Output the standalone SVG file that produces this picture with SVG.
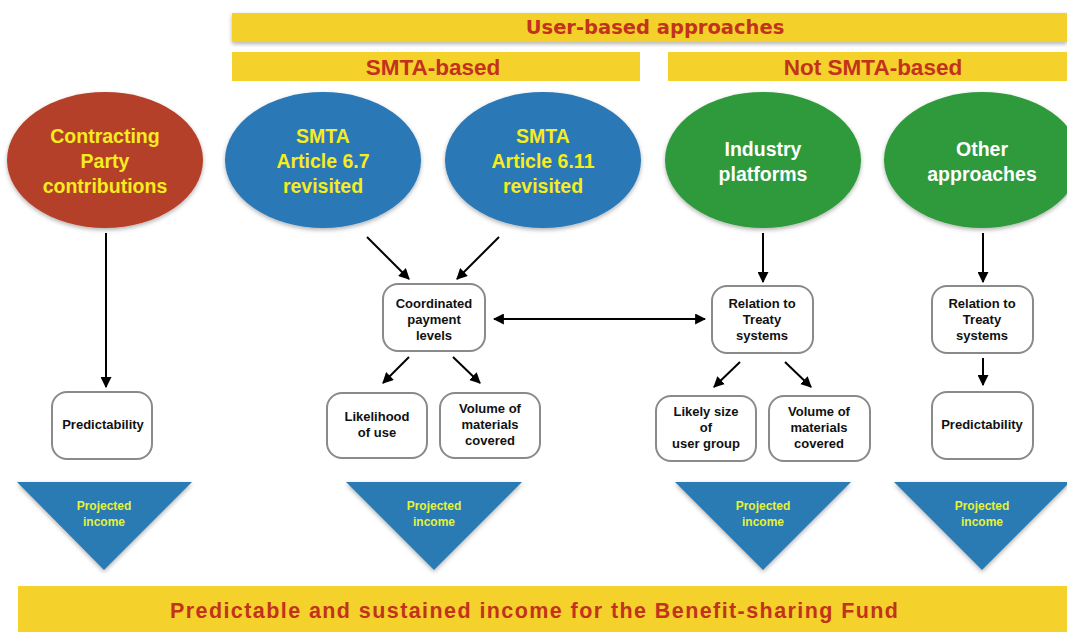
<svg xmlns="http://www.w3.org/2000/svg" width="1067" height="632" viewBox="0 0 1067 632">
<defs>
<style>
.bar{fill:#f4d12b}
.bartxt{font-family:"Liberation Sans",Arial,sans-serif;font-weight:bold;fill:#c2321d;text-anchor:middle}
.ell{font-family:"Liberation Sans",Arial,sans-serif;font-weight:bold;font-size:19.5px;text-anchor:middle}
.yl{fill:#f6ec1e}
.wt{fill:#ffffff}
.box{fill:#ffffff;stroke:#8a8a8a;stroke-width:2}
.bt{font-family:"Liberation Sans",Arial,sans-serif;font-weight:bold;font-size:13px;fill:#111;text-anchor:middle}
.tri{fill:#2b7ab4}
.tt{font-family:"Liberation Sans",Arial,sans-serif;font-weight:bold;font-size:12px;fill:#e4f23a;text-anchor:middle}
.ar{stroke:#000;stroke-width:2;fill:none}
</style>
<marker id="ah" viewBox="0 0 10 10" refX="9" refY="5" markerWidth="5.5" markerHeight="5.5" orient="auto-start-reverse" markerUnits="strokeWidth">
<path d="M0,0 L10,5 L0,10 z" fill="#000"/>
</marker>
<filter id="sh" x="-10%" y="-10%" width="120%" height="125%">
<feDropShadow dx="0" dy="2" stdDeviation="2" flood-color="#000" flood-opacity="0.3"/>
</filter>
</defs>
<rect width="1067" height="632" fill="#ffffff"/>

<g id="bar-user">
<rect class="bar" x="232" y="13" width="835" height="29" filter="url(#sh)"/>
<text class="bartxt" x="655" y="34" style="font-family:'DejaVu Sans',sans-serif;font-size:19.5px">User-based approaches</text>
</g>
<g id="bar-smta">
<rect class="bar" x="232" y="52" width="408" height="29"/>
<text class="bartxt" x="433" y="75" font-size="22.5">SMTA-based</text>
</g>
<g id="bar-notsmta">
<rect class="bar" x="668" y="52" width="399" height="29"/>
<text class="bartxt" x="873" y="75" font-size="22.5">Not SMTA-based</text>
</g>

<g id="n-contracting">
<ellipse cx="105" cy="160" rx="98" ry="68" fill="#b5402b" filter="url(#sh)"/>
<text class="ell yl" x="105" y="143">Contracting</text>
<text class="ell yl" x="105" y="168">Party</text>
<text class="ell yl" x="105" y="193">contributions</text>
</g>
<g id="n-smta67">
<ellipse cx="323" cy="160" rx="98" ry="68" fill="#2a78b5" filter="url(#sh)"/>
<text class="ell yl" x="323" y="143">SMTA</text>
<text class="ell yl" x="323" y="168">Article 6.7</text>
<text class="ell yl" x="323" y="193">revisited</text>
</g>
<g id="n-smta611">
<ellipse cx="543" cy="160" rx="98" ry="68" fill="#2a78b5" filter="url(#sh)"/>
<text class="ell yl" x="543" y="143">SMTA</text>
<text class="ell yl" x="543" y="168">Article 6.11</text>
<text class="ell yl" x="543" y="193">revisited</text>
</g>
<g id="n-industry">
<ellipse cx="763" cy="160" rx="98" ry="68" fill="#2f9a3b" filter="url(#sh)"/>
<text class="ell wt" x="763" y="156">Industry</text>
<text class="ell wt" x="763" y="181">platforms</text>
</g>
<g id="n-other">
<ellipse cx="982" cy="160" rx="98" ry="68" fill="#2f9a3b" filter="url(#sh)"/>
<text class="ell wt" x="982" y="156">Other</text>
<text class="ell wt" x="982" y="181">approaches</text>
</g>

<g id="n-coord">
<rect class="box" x="383" y="284" width="102" height="67" rx="15"/>
<text class="bt" x="434" y="308">Coordinated</text>
<text class="bt" x="434" y="324">payment</text>
<text class="bt" x="434" y="340">levels</text>
</g>
<g id="n-rel1">
<rect class="box" x="712" y="286" width="101" height="67" rx="15"/>
<text class="bt" x="762" y="308">Relation to</text>
<text class="bt" x="762" y="324">Treaty</text>
<text class="bt" x="762" y="340">systems</text>
</g>
<g id="n-rel2">
<rect class="box" x="932" y="286" width="101" height="67" rx="15"/>
<text class="bt" x="982" y="308">Relation to</text>
<text class="bt" x="982" y="324">Treaty</text>
<text class="bt" x="982" y="340">systems</text>
</g>
<g id="n-pred1">
<rect class="box" x="52" y="392" width="100" height="67" rx="15"/>
<text class="bt" x="103" y="429">Predictability</text>
</g>
<g id="n-likeli">
<rect class="box" x="327" y="393" width="100" height="65" rx="15"/>
<text class="bt" x="377" y="421">Likelihood</text>
<text class="bt" x="377" y="437">of use</text>
</g>
<g id="n-vol1">
<rect class="box" x="440" y="393" width="100" height="65" rx="15"/>
<text class="bt" x="490" y="413">Volume of</text>
<text class="bt" x="490" y="429">materials</text>
<text class="bt" x="490" y="445">covered</text>
</g>
<g id="n-size">
<rect class="box" x="656" y="396" width="100" height="65" rx="15"/>
<text class="bt" x="706" y="416">Likely size</text>
<text class="bt" x="706" y="432">of</text>
<text class="bt" x="706" y="448">user group</text>
</g>
<g id="n-vol2">
<rect class="box" x="769" y="396" width="101" height="65" rx="15"/>
<text class="bt" x="819" y="416">Volume of</text>
<text class="bt" x="819" y="432">materials</text>
<text class="bt" x="819" y="448">covered</text>
</g>
<g id="n-pred2">
<rect class="box" x="932" y="392" width="101" height="67" rx="15"/>
<text class="bt" x="982" y="429">Predictability</text>
</g>

<g id="n-inc1">
<polygon class="tri" points="17,482 192,482 104,570" filter="url(#sh)"/>
<text class="tt" x="104" y="510">Projected</text>
<text class="tt" x="104" y="526">income</text>
</g>
<g id="n-inc2">
<polygon class="tri" points="346,482 522,482 434,570" filter="url(#sh)"/>
<text class="tt" x="434" y="510">Projected</text>
<text class="tt" x="434" y="526">income</text>
</g>
<g id="n-inc3">
<polygon class="tri" points="675,482 851,482 763,570" filter="url(#sh)"/>
<text class="tt" x="763" y="510">Projected</text>
<text class="tt" x="763" y="526">income</text>
</g>
<g id="n-inc4">
<polygon class="tri" points="894,482 1070,482 982,570" filter="url(#sh)"/>
<text class="tt" x="982" y="510">Projected</text>
<text class="tt" x="982" y="526">income</text>
</g>

<g id="bar-bottom">
<rect class="bar" x="18" y="586" width="1049" height="46"/>
<text class="bartxt" x="534" y="618" font-size="21.5" textLength="728" lengthAdjust="spacing">Predictable and sustained income for the Benefit-sharing Fund</text>
</g>

<g id="connectors">
<line class="ar" x1="106" y1="233" x2="106" y2="387" marker-end="url(#ah)"/>
<line class="ar" x1="367" y1="237" x2="409" y2="279" marker-end="url(#ah)"/>
<line class="ar" x1="499" y1="237" x2="457" y2="279" marker-end="url(#ah)"/>
<line class="ar" x1="494" y1="319" x2="705" y2="319" marker-start="url(#ah)" marker-end="url(#ah)"/>
<line class="ar" x1="409" y1="357" x2="383" y2="383" marker-end="url(#ah)"/>
<line class="ar" x1="453" y1="357" x2="480" y2="383" marker-end="url(#ah)"/>
<line class="ar" x1="763" y1="233" x2="763" y2="282" marker-end="url(#ah)"/>
<line class="ar" x1="983" y1="233" x2="983" y2="282" marker-end="url(#ah)"/>
<line class="ar" x1="740" y1="362" x2="714" y2="387" marker-end="url(#ah)"/>
<line class="ar" x1="785" y1="362" x2="811" y2="387" marker-end="url(#ah)"/>
<line class="ar" x1="983" y1="358" x2="983" y2="385" marker-end="url(#ah)"/>
</g>
</svg>
